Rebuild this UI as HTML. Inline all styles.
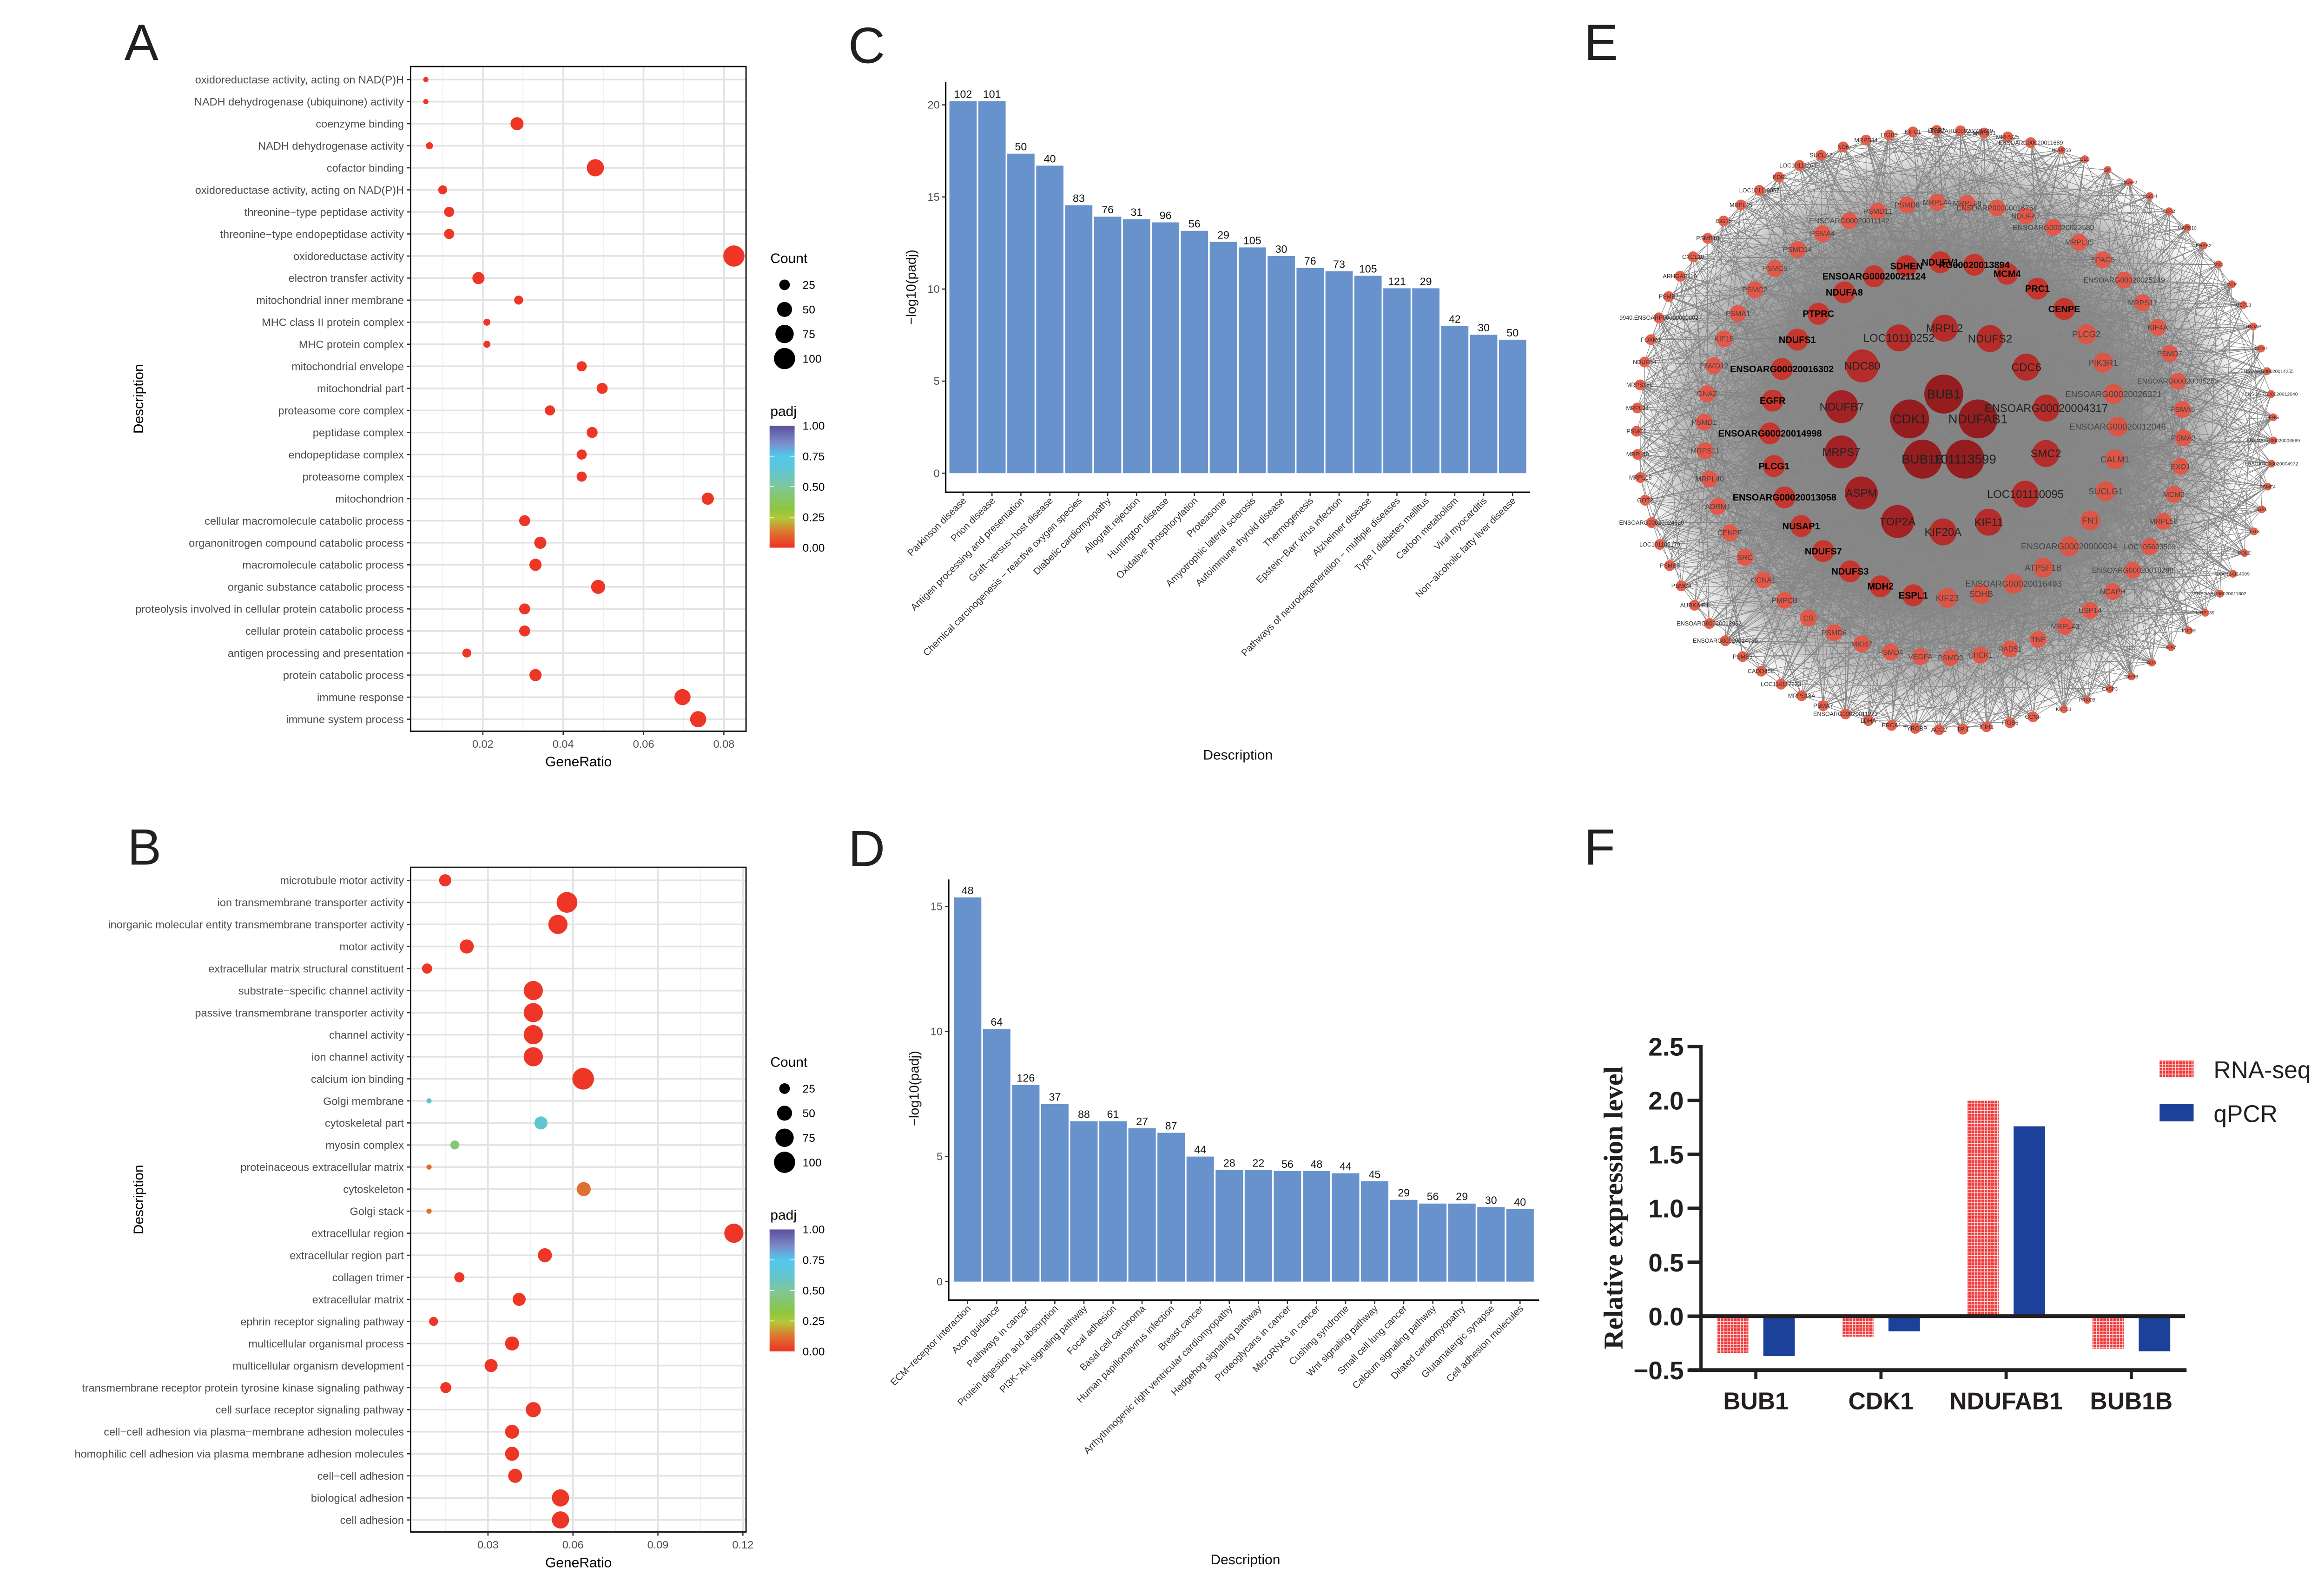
<!DOCTYPE html>
<html><head><meta charset="utf-8">
<style>
html,body{margin:0;padding:0;background:#fff;}
svg{display:block;font-family:"Liberation Sans",Arial,sans-serif;}
</style></head>
<body>
<svg id="fig" xmlns="http://www.w3.org/2000/svg" width="5030" height="3430" viewBox="0 0 1560 1063.8" preserveAspectRatio="none">
<defs>
<linearGradient id="padjGrad" x1="0" y1="1" x2="0" y2="0">
<stop offset="0" stop-color="#ee3124"/><stop offset="0.12" stop-color="#e07030"/><stop offset="0.24" stop-color="#b3c83a"/><stop offset="0.32" stop-color="#8cc63f"/><stop offset="0.5" stop-color="#7fc79a"/><stop offset="0.62" stop-color="#62c6d0"/><stop offset="0.75" stop-color="#52c8ee"/><stop offset="0.86" stop-color="#7a8cc8"/><stop offset="1" stop-color="#5b4e9e"/>
</linearGradient>
<pattern id="redHatch" width="2.2" height="2.2" patternUnits="userSpaceOnUse">
<rect width="2.2" height="2.2" fill="#f03a3a"/><rect x="1.6" width="0.45" height="2.2" fill="#fde0e0"/><rect y="1.6" width="2.2" height="0.45" fill="#fde0e0"/>
</pattern>
<radialGradient id="netBg" cx="0.5" cy="0.5" r="0.5">
<stop offset="0" stop-color="#7e7e7e" stop-opacity="1"/><stop offset="0.6" stop-color="#868686" stop-opacity="0.95"/><stop offset="0.85" stop-color="#929292" stop-opacity="0.6"/><stop offset="1" stop-color="#aaaaaa" stop-opacity="0"/>
</radialGradient>
</defs>
<g id="root"></g>
</svg>
<script>
// ---------- Panel A data ----------
const aTerms=["oxidoreductase activity, acting on NAD(P)H","NADH dehydrogenase (ubiquinone) activity","coenzyme binding","NADH dehydrogenase activity","cofactor binding","oxidoreductase activity, acting on NAD(P)H","threonine\u2212type peptidase activity","threonine\u2212type endopeptidase activity","oxidoreductase activity","electron transfer activity","mitochondrial inner membrane","MHC class II protein complex","MHC protein complex","mitochondrial envelope","mitochondrial part","proteasome core complex","peptidase complex","endopeptidase complex","proteasome complex","mitochondrion","cellular macromolecule catabolic process","organonitrogen compound catabolic process","macromolecule catabolic process","organic substance catabolic process","proteolysis involved in cellular protein catabolic process","cellular protein catabolic process","antigen processing and presentation","protein catabolic process","immune response","immune system process"];
const aRatio=[0.0058,0.0058,0.0285,0.0067,0.048,0.010,0.0116,0.0116,0.0825,0.0189,0.0289,0.021,0.021,0.0446,0.0497,0.0367,0.0472,0.0446,0.0446,0.076,0.0304,0.0343,0.0331,0.0487,0.0304,0.0304,0.016,0.0331,0.0697,0.0736];
const aCount=[6,6,38,11,66,18,23,23,100,33,18,11,11,23,27,23,27,23,23,33,27,33,33,44,27,27,18,33,58,58];
const aPadj=[0.01,0.01,0.01,0.01,0.01,0.01,0.01,0.01,0.01,0.01,0.01,0.01,0.01,0.01,0.01,0.01,0.01,0.01,0.01,0.01,0.01,0.01,0.01,0.01,0.01,0.01,0.01,0.01,0.01,0.01];
const aTicks=[0.02,0.04,0.06,0.08];
const aTickLabels=["0.02","0.04","0.06","0.08"];
// ---------- Panel B data ----------
const bTerms=["microtubule motor activity","ion transmembrane transporter activity","inorganic molecular entity transmembrane transporter activity","motor activity","extracellular matrix structural constituent","substrate\u2212specific channel activity","passive transmembrane transporter activity","channel activity","ion channel activity","calcium ion binding","Golgi membrane","cytoskeletal part","myosin complex","proteinaceous extracellular matrix","cytoskeleton","Golgi stack","extracellular region","extracellular region part","collagen trimer","extracellular matrix","ephrin receptor signaling pathway","multicellular organismal process","multicellular organism development","transmembrane receptor protein tyrosine kinase signaling pathway","cell surface receptor signaling pathway","cell\u2212cell adhesion via plasma\u2212membrane adhesion molecules","homophilic cell adhesion via plasma membrane adhesion molecules","cell\u2212cell adhesion","biological adhesion","cell adhesion"];
const bRatio=[0.0149,0.0579,0.0547,0.0225,0.0085,0.046,0.046,0.046,0.046,0.0636,0.0092,0.0487,0.0183,0.0092,0.0638,0.0092,0.1168,0.0501,0.0199,0.041,0.0108,0.0385,0.0311,0.0151,0.046,0.0385,0.0385,0.0396,0.0556,0.0556];
const bCount=[33,96,82,44,23,82,82,82,82,104,6,38,18,6,44,6,82,44,23,38,18,44,38,27,51,44,44,44,66,66];
const bPadj=[0.01,0.01,0.01,0.01,0.01,0.01,0.01,0.01,0.01,0.01,0.62,0.62,0.42,0.12,0.12,0.12,0.01,0.01,0.01,0.01,0.01,0.01,0.01,0.01,0.01,0.01,0.01,0.01,0.01,0.01];
const bTicks=[0.03,0.06,0.09,0.12];
const bTickLabels=["0.03","0.06","0.09","0.12"];
const countLegend=[25,50,75,100];
const padjLegend=["1.00","0.75","0.50","0.25","0.00"];
// ---------- Panel C data ----------
const cCats=["Parkinson disease","Prion disease","Antigen processing and presentation","Graft\u2212versus\u2212host disease","Chemical carcinogenesis \u2212 reactive oxygen species","Diabetic cardiomyopathy","Allograft rejection","Huntington disease","Oxidative phosphorylation","Proteasome","Amyotrophic lateral sclerosis","Autoimmune thyroid disease","Thermogenesis","Epstein\u2212Barr virus infection","Alzheimer disease","Pathways of neurodegeneration \u2212 multiple diseases","Type I diabetes mellitus","Carbon metabolism","Viral myocarditis","Non\u2212alcoholic fatty liver disease"];
const cVals=[20.2,20.2,17.35,16.7,14.55,13.93,13.79,13.62,13.16,12.56,12.26,11.79,11.14,10.97,10.72,10.04,10.04,7.99,7.52,7.25];
const cCounts=["102","101","50","40","83","76","31","96","56","29","105","30","76","73","105","121","29","42","30","50"];
const cTicks=[0,5,10,15,20];
// ---------- Panel D data ----------
const dCats=["ECM\u2212receptor interaction","Axon guidance","Pathways in cancer","Protein digestion and absorption","PI3K\u2212Akt signaling pathway","Focal adhesion","Basal cell carcinoma","Human papillomavirus infection","Breast cancer","Arrhythmogenic right ventricular cardiomyopathy","Hedgehog signaling pathway","Proteoglycans in cancer","MicroRNAs in cancer","Cushing syndrome","Wnt signaling pathway","Small cell lung cancer","Calcium signaling pathway","Dilated cardiomyopathy","Glutamatergic synapse","Cell adhesion molecules"];
const dVals=[15.36,10.1,7.86,7.1,6.41,6.41,6.13,5.95,5.0,4.46,4.46,4.42,4.42,4.33,4.01,3.27,3.12,3.12,2.98,2.9];
const dCounts=["48","64","126","37","88","61","27","87","44","28","22","56","48","44","45","29","56","29","30","40"];
const dTicks=[0,5,10,15];
// ---------- Panel F data ----------
const fGenes=["BUB1","CDK1","NDUFAB1","BUB1B"];
const fRna=[-0.34,-0.19,2.0,-0.30];
const fQpcr=[-0.37,-0.14,1.76,-0.325];
const fTicks=[-0.5,0,0.5,1.0,1.5,2.0,2.5];
const fTickLabels=["\u22120.5","0.0","0.5","1.0","1.5","2.0","2.5"];
// ---------- Panel E network ----------
const eCenter=["BUB1","NDUFAB1","101113599","BUB1B","CDK1"];
const eHubs=["NDC80","LOC10110252","MRPL2","NDUFS2","CDC6","ENSOARG00020004317","SMC2","LOC101110095","KIF11","KIF20A","TOP2A","ASPM","MRPS7","NDUFB7"];
const eMid=["NDUFS1","PTPRC","NDUFA8","ENSOARG00020021124","SDHEN","NDUFV1","RG00020013894","MCM4","PRC1","CENPE","PLCG2","PIK3R1","ENSOARG00020026321","ENSOARG00020012046","CALM1","SUCLG1","FN1","ENSOARG00020000034","ATP5F1B","ENSOARG00020016493","SDHB","KIF23","ESPL1","MDH2","NDUFS3","NDUFS7","NUSAP1","ENSOARG00020013058","PLCG1","ENSOARG00020014998","EGFR","ENSOARG00020016302"];
const eMidDark=[1,1,1,1,1,1,1,1,1,1,0,0,0,0,0,0,0,0,0,0,0,0,1,1,1,1,1,1,1,1,1,1];
const eRing=["PSMD11","PSMD8","MRPL44","MRPL48","ENSOARP00000016754","NDUFA7","ENSOARG00020022580","MRPL35","SPAG5","ENSOARG00020025249","MRPS12","KIF4A","PSMD7","ENSOARG00020005253","PSMA5","PSMA3","EXO1","MCM2","MRPL58","LOC105603509","ENSOARG00020018288","NCAPH","USP14","MRPL43","TNF","RAD51","CHEK1","PSMD3","VEGFA","PSMD4","MKI67","PSMD6","CS","PMPCB","CCNA1","SRC","CENPF","ADRM1","MRPL40","MRPS11","PSMD1","GNAZ","PSMD12","KIF15","PSMA1","PSMC2","PSMC5","PSMD14","PSMA4","ENSOARG00020011142"];
const eOuter=["MRPS25","ENSOARG00020011689","NDUFS3","DLD","GPI","CKAP2","OGDH","LCP2","MAPK10","ERBB2","MX1","VCP","USP18","TROAP","CCR7","ENSOARG00020014255","ENSOARG00020012040","IFNG","ENSOARG00020006589","ENSOARG00020004972","PSME4","IGF1","IFIT3","POLE","LOC114114909","ENSOARG00020011802","MRPL39","IGF1R","IRF7","ADK","IDH3B","CASP3","PRKCB","KNTC1","CCNF","ITGB6","IFIH1","TPI1","ACO2","TYROBP","BRCA1","LDHA","ENSOARG00020011223","PSMA7","MRPS18A","LOC114117223","CADD45C","PSMB3","ENSOARG00020014789","ENSOARG00020013962","AURKAIP1","PSMC4","PSMB5","LOC101105179","ENSOARG00020024620","GOT2","MRPL18","MRPL49","PSMC6","MRPL34","MRPS18C","NDUFB4","FOXM1","9940.ENSOARP00000000002","PSMB7","ARHGAP11A","CXCL10","PSMB10","ISG15","MRPL45","LOC101119057","KDR","LOC101112639","SUCLA2","ND6","MRPS34","ITGB3","KIFC1","ITGB2","ENSOARG00020021699","MRPS31"];

const NS="http://www.w3.org/2000/svg";
const root=document.getElementById('root');
const NARROW='font-family:"Liberation Sans Narrow","Liberation Sans",sans-serif;';
function mk(tag,parent){const e=document.createElementNS(NS,tag);(parent||root).appendChild(e);return e;}
function txt(parent,x,y,s,size,opt){const t=mk('text',parent);t.setAttribute('x',x);t.setAttribute('y',y);t.setAttribute('font-size',size);t.textContent=s;if(opt){for(const k in opt)t.setAttribute(k,opt[k]);}return t;}
function line(parent,x1,y1,x2,y2,stroke,w){const l=mk('line',parent);l.setAttribute('x1',x1);l.setAttribute('y1',y1);l.setAttribute('x2',x2);l.setAttribute('y2',y2);l.setAttribute('stroke',stroke);l.setAttribute('stroke-width',w);return l;}
function padjColor(p){const st=[[0,[238,49,36]],[0.12,[224,112,48]],[0.24,[179,200,58]],[0.32,[140,198,63]],[0.5,[127,199,154]],[0.62,[98,198,208]],[0.75,[82,200,238]],[0.86,[122,140,200]],[1,[91,78,158]]];for(let i=1;i<st.length;i++){if(p<=st[i][0]){const a=st[i-1],b=st[i];const f=(p-a[0])/(b[0]-a[0]);return 'rgb('+a[1].map((v,k)=>Math.round(v+(b[1][k]-v)*f)).join(',')+')';}}return 'rgb(91,78,158)';}
function panelLetter(x,y,s,name){const t=txt(root,x,y,s,34,{fill:'#231f20'});}

// ---------- dot plot ----------
function dotPlot(cfg){
  const g=mk('g');
  
  
  const L=274,R=497.8,T=cfg.top,B=cfg.bottom;
  const xs=v=>cfg.x0+(v-cfg.t0)*cfg.k;
  const ys=i=>cfg.y0+i*14.72;
  for(let i=0;i<=cfg.ticks.length;i++){const v=cfg.ticks[0]+(i-0.5)*(cfg.ticks[1]-cfg.ticks[0]);const x=xs(v);if(x>L&&x<R){const l=line(g,x,T,x,B,'#f0f0f0',0.6);}}
  cfg.ticks.forEach(v=>{const x=xs(v);const l=line(g,x,T,x,B,'#e3e3e3',1.1);});
  cfg.terms.forEach((t,i)=>{const l=line(g,L,ys(i),R,ys(i),'#e3e3e3',1.1);});
  cfg.terms.forEach((t,i)=>{
    const c=mk('circle',g);c.setAttribute('cx',xs(cfg.ratio[i]));c.setAttribute('cy',ys(i));c.setAttribute('r',0.707*Math.sqrt(cfg.count[i]));c.setAttribute('fill',padjColor(cfg.padj[i]));
    
    
    const lb=txt(g,269.5,ys(i)+2.6,t,7.3,{'text-anchor':'end',fill:'#4d4d4d'});
    
    
    const tk=line(g,271.5,ys(i),274,ys(i),'#333',0.8);
  });
  const box=mk('rect',g);box.setAttribute('x',L);box.setAttribute('y',T);box.setAttribute('width',R-L);box.setAttribute('height',B-T);box.setAttribute('fill','none');box.setAttribute('stroke','#111');box.setAttribute('stroke-width',0.9);
  
  cfg.ticks.forEach((v,i)=>{const x=xs(v);const tk=line(g,x,B,x,B+2.5,'#333',0.8);
    const lb=txt(g,x,B+11,cfg.tickLabels[i],7.3,{'text-anchor':'middle',fill:'#4d4d4d'});});
  const xt=txt(g,386,B+23.5,'GeneRatio',9.3,{'text-anchor':'middle',fill:'#000'});
  const cy=(T+B)/2;const yt=txt(g,0,0,'Description',9.3,{'text-anchor':'middle',fill:'#000',transform:'translate(95.5,'+cy+') rotate(-90)'});
  const lg=mk('g',g);
  const ly=cfg.legY;
  const ct=txt(lg,514,ly,'Count',9.3,{fill:'#000'});
  countLegend.forEach((n,i)=>{const c=mk('circle',lg);c.setAttribute('cx',523.5);c.setAttribute('cy',ly+14.5+i*16.4);c.setAttribute('r',0.707*Math.sqrt(n));c.setAttribute('fill','#000');
    
    
    const t=txt(lg,535.5,ly+17.2+i*16.4,String(n),7.6,{fill:'#000'});});
  const pt=txt(lg,514,ly+102,'padj',9.3,{fill:'#000'});
  const cb=mk('rect',lg);cb.setAttribute('x',513.5);cb.setAttribute('y',ly+108.5);cb.setAttribute('width',16.7);cb.setAttribute('height',81.4);cb.setAttribute('fill','url(#padjGrad)');
  
  padjLegend.forEach((s,i)=>{const yy=ly+108.5+i*20.35;if(i>0&&i<4){line(lg,513.5,yy,516.5,yy,'#fff',0.5);line(lg,527.2,yy,530.2,yy,'#fff',0.5);}
    const t=txt(lg,535.5,yy+2.7,s,7.6,{fill:'#000'});});
}
dotPlot({name:'panel-a-go-dotplot',terms:aTerms,ratio:aRatio,count:aCount,padj:aPadj,ticks:aTicks,tickLabels:aTickLabels,x0:322.2,t0:0.02,k:2680,y0:53.1,top:44.4,bottom:488,legY:175.6});
dotPlot({name:'panel-b-go-dotplot',terms:bTerms,ratio:bRatio,count:bCount,padj:bPadj,ticks:bTicks,tickLabels:bTickLabels,x0:325.6,t0:0.03,k:1890,y0:587.5,top:578.8,bottom:1022.4,legY:712});
panelLetter(83,40,'A','panel-label-a');
panelLetter(85,577,'B','panel-label-b');

// ---------- bar charts ----------
function barChart(cfg){
  const g=mk('g');
  
  
  const ax=cfg.axisX, base=cfg.y0, k=cfg.k;
  const ys=v=>base-v*k;
  const bx=i=>cfg.barStart+i*cfg.band;
  cfg.vals.forEach((v,i)=>{
    const r=mk('rect',g);r.setAttribute('x',bx(i));r.setAttribute('y',ys(v));r.setAttribute('width',cfg.band-1.1);r.setAttribute('height',base-ys(v));r.setAttribute('fill','#6792cc');
    
    
    const cx=bx(i)+(cfg.band-1.1)/2;
    const lb=txt(g,cx,ys(v)-2.2,cfg.counts[i],7.2,{'text-anchor':'middle',fill:'#111'});
    
    
    const tk=line(g,cx,cfg.axisY,cx,cfg.axisY+2.5,'#333',0.8);
    const cl=txt(g,0,0,cfg.cats[i],6.4,{'text-anchor':'end',fill:'#333',transform:'translate('+(cx+2.5)+','+(cfg.axisY+6)+') rotate(-45)'});
    
    
  });
  cfg.ticks.forEach(v=>{const y=ys(v);const tk=line(g,ax-2.5,y,ax,y,'#333',0.8);
    const t=txt(g,ax-4,y+2.5,String(v),7.3,{'text-anchor':'end',fill:'#4d4d4d'});});
  const yl=line(g,ax,cfg.axisTop,ax,cfg.axisY,'#000',1);
  const xl=line(g,ax-0.5,cfg.axisY,cfg.axisRight,cfg.axisY,'#000',1);
  const yt=txt(g,0,0,'\u2212log10(padj)',9,{'text-anchor':'middle',fill:'#111',transform:'translate('+cfg.titleX+','+cfg.titleY+') rotate(-90)'});
  const xt=txt(g,cfg.descX,cfg.descY,'Description',9.3,{'text-anchor':'middle',fill:'#111'});
}
barChart({name:'panel-c-kegg-barchart',cats:cCats,vals:cVals,counts:cCounts,ticks:cTicks,axisX:631,y0:315.8,k:12.29,barStart:633.5,band:19.3,axisY:328.5,axisTop:54.8,axisRight:1021,titleX:611,titleY:191.7,descX:826,descY:507});
barChart({name:'panel-d-kegg-barchart',cats:dCats,vals:dVals,counts:dCounts,ticks:dTicks,axisX:633,y0:855.3,k:16.69,barStart:636.5,band:19.4,axisY:867.7,axisTop:586.9,axisRight:1027,titleX:613,titleY:726.4,descX:831,descY:1044});
panelLetter(566,42,'C','panel-label-c');
panelLetter(566,578,'D','panel-label-d');

// ---------- Panel E network ----------
(function(){
  const g=mk('g');
  
  
  const CX=1297,CY=287;
  const nodes=[];
  eCenter.forEach((n,i)=>{const a=(-90+i*72)*Math.PI/180;nodes.push({n,x:CX+24*Math.cos(a),y:CY+24*Math.sin(a),r:13,c:'#951c1f',fs:8.6,fc:'#222',w:'normal'});});
  eHubs.forEach((n,i)=>{const a=(219+i*360/14)*Math.PI/180;nodes.push({n,x:CX+70*Math.cos(a),y:CY+68*Math.sin(a),r:i>=10||i==0?11:9,c:i>=10?'#a32226':'#b52d2a',fs:7.4,fc:'#222',w:'normal'});});
  eMid.forEach((n,i)=>{const a=(212.6+i*11.25)*Math.PI/180;nodes.push({n,x:CX+116*Math.cos(a),y:CY+112*Math.sin(a),r:eMidDark[i]?7.3:6.6,c:eMidDark[i]?'#c5372e':'#dd5545',fs:eMidDark[i]?6.2:5.8,fc:eMidDark[i]?'#000':'#444',w:eMidDark[i]?'bold':'normal'});});
  eRing.forEach((n,i)=>{const a=(-106+i*7.2)*Math.PI/180;nodes.push({n,x:CX+160*Math.cos(a),y:CY+152*Math.sin(a),r:5.6,c:'#e4584a',fs:4.9,fc:'#444',w:'normal'});});
  eOuter.forEach((n,i)=>{const a=(-78+i*360/eOuter.length)*Math.PI/180;const rr=Math.cos(a)>0.3?220:205;nodes.push({n,x:CX+rr*Math.cos(a),y:CY+200*Math.sin(a),r:Math.cos(a)>0.3?2.6:3.6,c:'#e8604c',fs:Math.cos(a)>0.3?3.2:3.9,fc:'#333',w:'normal'});});
  const bg=mk('ellipse',g);bg.setAttribute('cx',CX);bg.setAttribute('cy',CY);bg.setAttribute('rx',205);bg.setAttribute('ry',198);bg.setAttribute('fill','url(#netBg)');
  
  const eg=mk('g',g);
  eg.setAttribute('stroke','#858585');eg.setAttribute('stroke-width','0.36');eg.setAttribute('stroke-opacity','1');
  const N=nodes.length;let d='';
  for(let i=0;i<N;i++){const deg=i<5?45:i<19?32:i<51?20:i<101?12:7;
    for(let j=1;j<=deg;j++){const t=(i*37+j*53+j*j*11)%N;if(t===i)continue;d+='M'+nodes[i].x.toFixed(1)+' '+nodes[i].y.toFixed(1)+'L'+nodes[t].x.toFixed(1)+' '+nodes[t].y.toFixed(1);}}
  const p=mk('path',eg);p.setAttribute('d',d);p.setAttribute('fill','none');
  
  const ng=mk('g',g);
  nodes.forEach(o=>{const c=mk('circle',ng);c.setAttribute('cx',o.x.toFixed(2));c.setAttribute('cy',o.y.toFixed(2));c.setAttribute('r',o.r);c.setAttribute('fill',o.c);
    
    });
  nodes.forEach(o=>{const t=txt(ng,o.x.toFixed(2),(o.y+o.fs*0.35).toFixed(2),o.n,o.fs,{'text-anchor':'middle',fill:o.fc,'font-weight':o.w});
    
    });
})();
panelLetter(1057,40,'E','panel-label-e');

// ---------- Panel F bar chart ----------
(function(){
  const g=mk('g');
  
  
  const AX=1135, Y0=878.4, K=72.0;
  const ys=v=>Y0-v*K;
  const cx=i=>1171.6+i*83.5;
  const BW=21;
  fGenes.forEach((gname,i)=>{
    const vr=fRna[i],vq=fQpcr[i];
    const r1=mk('rect',g);r1.setAttribute('x',cx(i)-26);r1.setAttribute('y',Math.min(ys(vr),Y0));r1.setAttribute('width',BW);r1.setAttribute('height',Math.abs(ys(vr)-Y0));r1.setAttribute('fill','url(#redHatch)');
    
    
    const r2=mk('rect',g);r2.setAttribute('x',cx(i)+5);r2.setAttribute('y',Math.min(ys(vq),Y0));r2.setAttribute('width',BW);r2.setAttribute('height',Math.abs(ys(vq)-Y0));r2.setAttribute('fill','#1c419a');
    
    
    const tk=line(g,cx(i),ys(-0.5),cx(i),ys(-0.5)+6,'#231f20',2.1);
    const lb=txt(g,cx(i),940.5,gname,16,{'text-anchor':'middle','font-weight':'bold',fill:'#231f20',style:NARROW});
    
    
  });
  fTicks.forEach((v,i)=>{const y=ys(v);const tk=line(g,1126,y,AX,y,'#231f20',2.3);
    const t=txt(g,1123.5,y+6.1,fTickLabels[i],17,{'text-anchor':'end','font-weight':'bold',fill:'#231f20',style:NARROW});});
  const yl=line(g,AX,ys(2.5)-1,AX,ys(-0.5)+1.2,'#231f20',2.2);
  const xl=line(g,1127,ys(-0.5),1459,ys(-0.5),'#231f20',2.5);
  const zl=line(g,AX,Y0,1458,Y0,'#231f20',2.5);
  const yt=txt(g,0,0,'Relative expression level',18,{'text-anchor':'middle','font-weight':'bold',fill:'#231f20',style:'font-family:"Liberation Serif",serif;',textLength:189,lengthAdjust:'spacingAndGlyphs',transform:'translate(1082.5,806) rotate(-90)'});
  
  const lg=mk('g',g);
  const k1=mk('rect',lg);k1.setAttribute('x',1441);k1.setAttribute('y',707.6);k1.setAttribute('width',22.7);k1.setAttribute('height',11.5);k1.setAttribute('fill','url(#redHatch)');
  
  const t1=txt(lg,1477,719.5,'RNA-seq',16,{fill:'#231f20',style:NARROW});
  const k2=mk('rect',lg);k2.setAttribute('x',1441);k2.setAttribute('y',736.7);k2.setAttribute('width',22.7);k2.setAttribute('height',11.7);k2.setAttribute('fill','#1c419a');
  
  const t2=txt(lg,1477,748.8,'qPCR',16,{fill:'#231f20',style:NARROW});
})();
panelLetter(1057,577,'F','panel-label-f');
</script>
</body></html>
